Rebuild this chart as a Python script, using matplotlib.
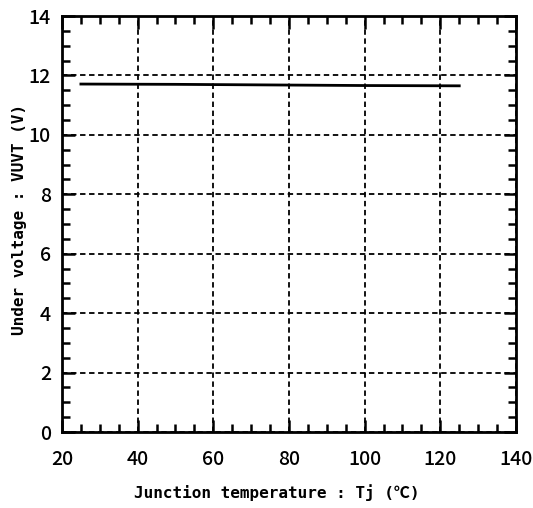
import matplotlib
matplotlib.use('Agg')
import matplotlib.pyplot as plt
from matplotlib.ticker import MultipleLocator

plt.rcParams['font.family'] = ['Noto Sans CJK JP', 'DejaVu Sans']
mono = ['DejaVu Sans Mono', 'Noto Sans CJK JP']

# data
tj = [25, 50, 75, 100, 125]
vuvt = [11.71, 11.70, 11.68, 11.66, 11.65]

x_ticks = [20, 40, 60, 80, 100, 120, 140]
y_ticks = [0, 2, 4, 6, 8, 10, 12, 14]

fig = plt.figure(figsize=(5.33, 5.08), dpi=100)
ax = fig.add_axes([0.1163, 0.1496, 0.8518, 0.8189])

ax.plot(tj, vuvt, color='black', linewidth=2)

ax.set_xlim(20, 140)
ax.set_ylim(0, 14)
ax.set_xticks(x_ticks)
ax.set_yticks(y_ticks)
ax.xaxis.set_minor_locator(MultipleLocator(5))
ax.yaxis.set_minor_locator(MultipleLocator(0.5))

ax.tick_params(which='both', direction='in', top=True, right=True, width=1.8)
ax.tick_params(which='major', length=9, labelsize=14)
ax.tick_params(which='minor', length=6)
ax.tick_params(axis='x', which='major', pad=13)
ax.tick_params(axis='y', which='major', pad=8)
for lbl in ax.get_xticklabels() + ax.get_yticklabels():
    lbl.set_fontweight('medium')

ax.grid(which='major', color='black', linestyle=(0, (3, 2)), linewidth=1.3)

for s in ax.spines.values():
    s.set_linewidth(2)

ax.set_xlabel('Junction temperature : Tj (℃)', fontsize=11.5, family=mono,
              fontweight='bold')
ax.set_ylabel('Under voltage : VUVT (V)', fontsize=11.5, family=mono,
              fontweight='bold')
ax.xaxis.set_label_coords(0.474, -0.125)
ax.yaxis.set_label_coords(-0.078, 0.51)

fig.savefig('out.png', dpi=100)
